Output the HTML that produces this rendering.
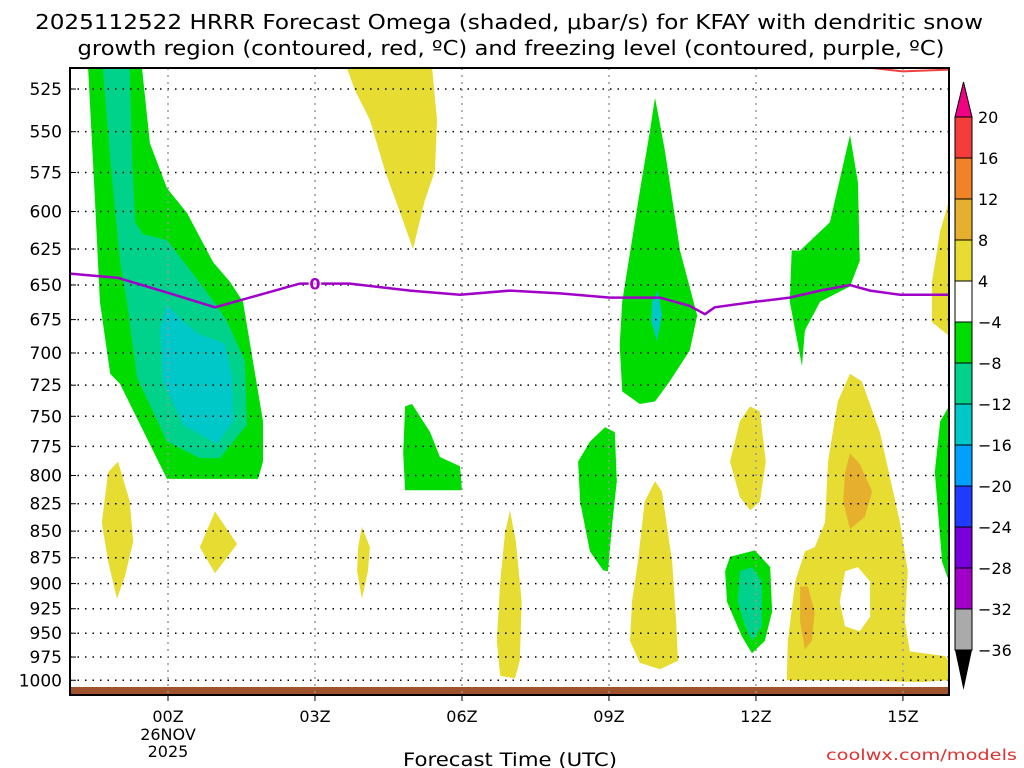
<!DOCTYPE html>
<html><head><meta charset="utf-8"><style>
body{margin:0;background:#fff;}
svg{display:block;font-family:"DejaVu Sans","Liberation Sans",sans-serif;}
</style></head><body>
<svg id="chart" width="1024" height="768">
<text x="509" y="29" text-anchor="middle" font-size="20" textLength="948" lengthAdjust="spacingAndGlyphs">2025112522 HRRR Forecast Omega (shaded, μbar/s) for KFAY with dendritic snow</text>
<text x="511" y="55" text-anchor="middle" font-size="20" textLength="867" lengthAdjust="spacingAndGlyphs">growth region (contoured, red, ºC) and freezing level (contoured, purple, ºC)</text>
<text x="510" y="766" text-anchor="middle" font-size="19" textLength="214" lengthAdjust="spacingAndGlyphs">Forecast Time (UTC)</text>
<text x="826" y="760" font-size="15" fill="#e03030" textLength="191" lengthAdjust="spacingAndGlyphs">coolwx.com/models</text>
<g id="plot"></g>
</svg>
<script>
const pressureTicks=[525,550,575,600,625,650,675,700,725,750,775,800,825,850,875,900,925,950,975,1000];
const timeTicks=[0,3,6,9,12,15];
const timeLabels=["00Z","03Z","06Z","09Z","12Z","15Z"];
const cbLevels=["20","16","12","8","4","−4","−8","−12","−16","−20","−24","−28","−32","−36"];
const cbColors=["#f53c3c","#f08228","#e6af2d","#e6dc32","#ffffff","#00dc00","#00d28c","#00c8c8","#00a0ff","#1e3cff","#7800dc","#a000c8","#aaaaaa"];
const C={g:"#00dc00",t:"#00d28c",c:"#00c8c8",y:"#e6dc32",o:"#e6af2d",w:"#ffffff"};
const shades=[
["green-plume-outer","g",[[-1.63,513],[-0.53,513],[-0.37,557],[-0.02,585],[0.39,601],[0.92,634],[1.27,648],[1.53,662],[1.94,754],[1.94,788],[1.84,803],[-0.02,803],[-0.98,724],[-1.18,716],[-1.39,662],[-1.49,593]]],
["green-plume-mid","t",[[-1.33,513],[-0.78,513],[-0.73,567],[-0.67,607],[-0.51,615],[-0.02,619],[0.51,642],[1.0,665],[1.2,676],[1.57,706],[1.61,757],[1.06,785],[0.65,785],[-0.02,771],[-0.63,719],[-0.84,662],[-0.98,633],[-1.18,567]]],
["green-plume-core","c",[[-0.02,664],[0.24,674],[0.59,685],[1.16,693],[1.31,719],[1.33,754],[1.0,773],[0.31,757],[-0.1,722],[-0.16,681]]],
["yellow-top-04z","y",[[3.65,513],[5.39,513],[5.49,543],[5.45,574],[5.24,593],[5.0,625],[4.73,600],[4.43,574],[4.12,543],[3.82,526]]],
["green-05z","g",[[4.84,742],[4.98,740],[5.35,763],[5.55,784],[5.96,792],[6,813],[4.84,813],[4.8,781]]],
["green-10z-upper","g",[[9.94,530],[10.14,561],[10.45,626],[10.8,672],[10.65,698],[10.24,722],[9.94,738],[9.63,740],[9.27,730],[9.22,694],[9.27,662],[9.47,619],[9.63,587],[9.84,549]]],
["cyan-10z","c",[[9.88,662],[10,654],[10.08,672],[9.98,691],[9.86,676]]],
["green-09z-lower","g",[[8.61,771],[8.92,759],[9.12,763],[9.16,805],[9.06,846],[8.98,888],[8.88,887],[8.61,869],[8.41,823],[8.37,788]]],
["green-13z-upper","g",[[12.73,626],[12.9,626],[13.51,607],[13.92,552],[14.08,581],[14.12,633],[13.92,651],[13.31,662],[13,683],[12.94,710],[12.8,683],[12.69,662]]],
["green-16z","g",[[15.76,754],[15.94,742],[15.94,898],[15.8,879],[15.65,797]]],
["yellow-16z-top","y",[[15.94,593],[15.94,687],[15.59,677],[15.59,648],[15.76,613]]],
["yellow-10z","y",[[9.94,805],[10.08,814],[10.29,879],[10.37,938],[10.41,979],[10.04,988],[9.63,981],[9.43,958],[9.47,918],[9.59,879],[9.73,823]]],
["yellow-07z","y",[[6.98,831],[7.1,860],[7.22,918],[7.18,979],[7.08,998],[6.78,995],[6.71,958],[6.78,898],[6.88,851]]],
["yellow-12z-upper","y",[[11.67,754],[11.88,742],[12.08,746],[12.2,788],[12.08,823],[11.88,831],[11.67,819],[11.47,788],[11.57,771]]],
["green-12z-lower","g",[[11.47,874],[11.98,868],[12.29,884],[12.33,928],[12.18,958],[11.92,971],[11.71,953],[11.41,918],[11.37,888]]],
["teal-12z-lower","t",[[11.67,888],[11.92,884],[12.12,898],[12.12,943],[11.92,958],[11.78,943],[11.63,918]]],
["yellow-14z-big","y",[[13.92,716],[14.16,722],[14.53,763],[14.94,842],[15.1,888],[15.04,938],[15.14,969],[15.86,974],[15.94,979],[15.94,1000],[15.35,1002],[13.92,1000],[12.63,1000],[12.65,958],[12.8,898],[13,869],[13.2,865],[13.41,842],[13.47,788],[13.67,738]]],
["white-hole-14z","w",[[13.82,888],[14.08,884],[14.33,898],[14.33,933],[14.12,948],[13.82,943],[13.71,918]]],
["orange-14z","o",[[13.92,781],[14.12,790],[14.37,814],[14.22,837],[13.92,848],[13.78,823],[13.82,797]]],
["orange-13z","o",[[12.9,903],[13.06,903],[13.2,928],[13.14,958],[13,967],[12.9,938]]],
["yellow-23z","y",[[-1.02,788],[-0.78,823],[-0.71,860],[-0.88,893],[-1.04,915],[-1.22,879],[-1.35,842],[-1.22,797]]],
["yellow-01z","y",[[0.96,832],[1.41,862],[0.96,890],[0.65,865]]],
["yellow-04z","y",[[3.96,846],[4.12,865],[4.08,888],[3.96,915],[3.86,888],[3.88,865]]]
];
const frzHours=[-2,-1.02,0.04,0.96,2.69,3,3.71,4.94,5.96,6.98,8,9.02,10.04,10.65,10.96,11.16,11.98,12.69,13.31,13.92,14.33,14.94,15.94];
const frzP=[642,645,656,666,649,649,649,654,657,654,656,659,659,665,671,666,662,659,654,650,654,657,657];
const dgzHours=[14.33,15.0,15.94];
const dgzP=[513,515,514];

const NS="http://www.w3.org/2000/svg";
const L=70,R=949,T=68,B=695;
const X=h=>L+(h+2)/(17.94)*(R-L);
const Y=p=>89+917.6*Math.log(p/525);
const g=document.getElementById('plot');
function mk(tag,attrs,parent){const e=document.createElementNS(NS,tag);for(const k in attrs)e.setAttribute(k,attrs[k]);(parent||g).appendChild(e);return e;}
const clip=mk('clipPath',{id:'pc'});mk('rect',{x:L,y:T,width:R-L,height:B-T},clip);
const area=mk('g',{'clip-path':'url(#pc)'});


shades.forEach(s=>{
  const e=mk('polygon',{points:s[2].map(q=>X(q[0]).toFixed(1)+','+Y(q[1]).toFixed(1)).join(' '),fill:C[s[1]]},area);
  
  
});
const ground=mk('rect',{x:L,y:687,width:R-L,height:8,fill:'#a0522d'},area);


pressureTicks.forEach(p=>{
  const e=mk('line',{x1:L,x2:R,y1:Y(p),y2:Y(p),stroke:'#000','stroke-width':1.5,'stroke-dasharray':'1.5 6'},area);
  
  
  const t=mk('line',{x1:L,x2:L+6,y1:Y(p),y2:Y(p),stroke:'#000'});
  
  
  const l=mk('text',{x:62,y:Y(p)+6,'text-anchor':'end','font-size':17});
  l.textContent=p;
  
  
});
timeTicks.forEach((h,i)=>{
  const e=mk('line',{x1:X(h),x2:X(h),y1:T,y2:B,stroke:'#999','stroke-width':1.5,'stroke-dasharray':'2 5'},area);
  
  
  const t=mk('line',{x1:X(h),x2:X(h),y1:B,y2:B+6,stroke:'#000'});
  
  
  const l=mk('text',{x:X(h),y:722,'text-anchor':'middle','font-size':16});
  l.textContent=timeLabels[i];
  
  
});
const d1=mk('text',{x:X(0),y:740,'text-anchor':'middle','font-size':16});d1.textContent='26NOV';


const d2=mk('text',{x:X(0),y:757,'text-anchor':'middle','font-size':16});d2.textContent='2025';


const fz=mk('polyline',{points:frzHours.map((h,i)=>X(h).toFixed(1)+','+Y(frzP[i]).toFixed(1)).join(' '),fill:'none',stroke:'#a000c8','stroke-width':2.5},area);


const fzl=mk('text',{x:X(3),y:Y(649)+6,'text-anchor':'middle','font-size':16,'font-weight':'bold',fill:'#a000c8',stroke:'#fff','stroke-width':3,'paint-order':'stroke'},area);
fzl.textContent='0';


const dg=mk('polyline',{points:dgzHours.map((h,i)=>X(h).toFixed(1)+','+Y(dgzP[i]).toFixed(1)).join(' '),fill:'none',stroke:'#f04040','stroke-width':2},area);


const fr=mk('rect',{x:L,y:T,width:R-L,height:B-T,fill:'none',stroke:'#000','stroke-width':2});


const cb=mk('g',{});


const cx=955,cw=17,ct=117,step=41;
const tt=mk('polygon',{points:`${cx},${ct} ${cx+cw},${ct} ${cx+cw/2},${ct-35}`,fill:'#f00082',stroke:'#000'},cb);


cbColors.forEach((c,i)=>{
  const r=mk('rect',{x:cx,y:ct+i*step,width:cw,height:step,fill:c,stroke:'#000','stroke-width':1},cb);
  
  
});
const bb=ct+cbColors.length*step;
const bt=mk('polygon',{points:`${cx},${bb} ${cx+cw},${bb} ${cx+cw/2},${bb+40}`,fill:'#000'},cb);


cbLevels.forEach((v,i)=>{
  const l=mk('text',{x:978,y:ct+i*step+6,'font-size':16},cb);
  l.textContent=v;
  
  
});
</script>
</body></html>
